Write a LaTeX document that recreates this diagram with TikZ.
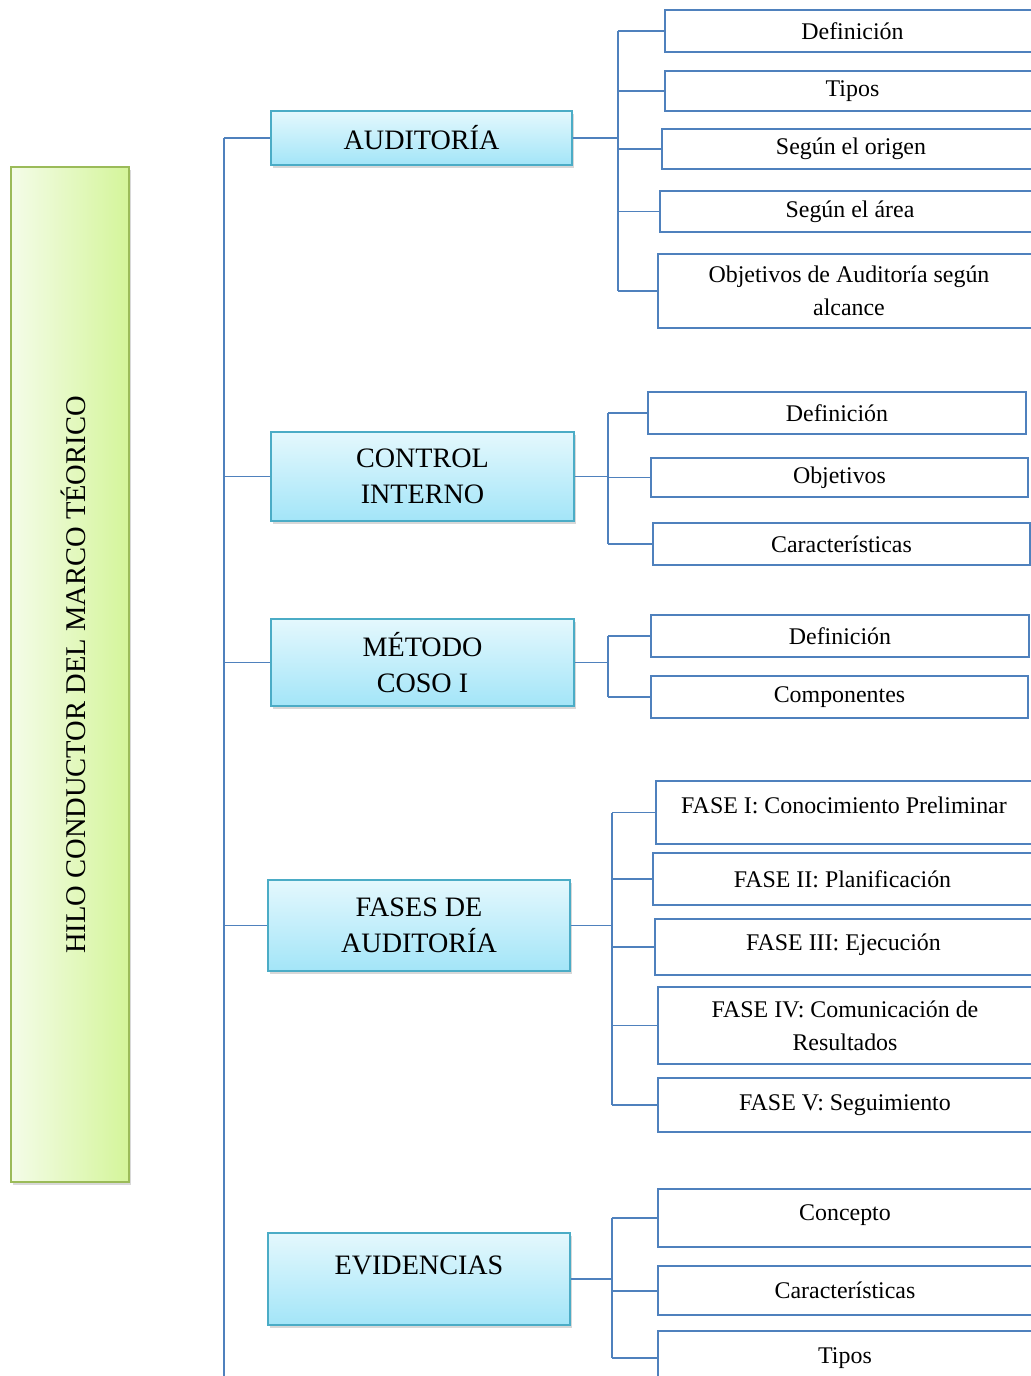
\documentclass[tikz,border=0pt]{standalone}
\usepackage{fontspec}
\setmainfont{Liberation Serif}
\usepackage{tikz}
\usetikzlibrary{positioning, shadows}

\definecolor{linkblue}{HTML}{4F81BD}
\definecolor{topicedge}{HTML}{4BACC6}
\definecolor{topictop}{HTML}{E4F8FD}
\definecolor{topicbot}{HTML}{A3E5F8}
\definecolor{titleedge}{HTML}{9BBB59}
\definecolor{titleleft}{HTML}{F4FCE8}
\definecolor{titleright}{HTML}{D4F59A}

\tikzset{
  link/.style={draw=linkblue, line width=1.4pt},
  titlebox/.style={draw=titleedge, line width=1.4pt, left color=titleleft, right color=titleright,
    drop shadow={opacity=0.3, shadow xshift=1.5pt, shadow yshift=-2pt}, inner sep=0pt},
  topic/.style={draw=topicedge, line width=1.4pt, top color=topictop, bottom color=topicbot,
    drop shadow={opacity=0.3, shadow xshift=1.5pt, shadow yshift=-2pt},
    align=center, font=\fontsize{20}{26}\selectfont, inner sep=0pt},
  leaf/.style={draw=linkblue, line width=1.4pt, fill=white, align=center,
    font=\fontsize{17}{23.5}\selectfont, inner sep=0pt},
}

\begin{document}
\begin{tikzpicture}[x=0.025cm, y=-0.025cm]
  % page is 1031 x 1376 px, 1px = 0.025cm
  \def\u{0.025cm}
  \clip (0,0) rectangle (1031,1376);
  \fill[white] (0,0) rectangle (1031,1376);

  % title column on the left
  \node[titlebox, minimum width=118*\u, minimum height=1015*\u] (hilo) at (70,674.5) {};
  \node[rotate=90, font=\fontsize{20.3}{24}\selectfont] (hilotxt) at (73,675) {HILO CONDUCTOR DEL MARCO TÉORICO};

  % main topics
  \node[topic, minimum width=301*\u, minimum height=54*\u] (aud) at (421.5,138) {AUDITORÍA};
  \node[topic, minimum width=303*\u, minimum height=89*\u] (ctrl) at (422.5,476.5) {CONTROL\\INTERNO};
  \node[topic, minimum width=303*\u, minimum height=87*\u] (coso) at (422.5,662.5) {MÉTODO\\COSO I};
  \node[topic, minimum width=302*\u, minimum height=91*\u] (fases) at (419,925.5) {FASES DE\\AUDITORÍA};
  \node[topic, minimum width=302*\u, minimum height=92*\u, text depth=19pt] (evid) at (419,1279) {EVIDENCIAS};

  % leaves: Auditoria
  \node[leaf, minimum width=375*\u, minimum height=42*\u] (a1) at (852.5,31) {Definición};
  \node[leaf, minimum width=375*\u, minimum height=40*\u] (a2) at (852.5,91) {Tipos};
  \node[leaf, minimum width=378*\u, minimum height=40*\u] (a3) at (851,149) {Según el origen};
  \node[leaf, minimum width=380*\u, minimum height=41*\u] (a4) at (850,211.5) {Según el área};
  \node[leaf, minimum width=382*\u, minimum height=74*\u] (a5) at (849,291) {Objetivos de Auditoría según\\alcance};

  % leaves: Control interno
  \node[leaf, minimum width=378*\u, minimum height=42*\u] (c1) at (837,413) {Definición};
  \node[leaf, minimum width=377*\u, minimum height=39*\u] (c2) at (839.5,477.5) {Objetivos};
  \node[leaf, minimum width=377*\u, minimum height=42*\u] (c3) at (841.5,544) {Características};

  % leaves: COSO I
  \node[leaf, minimum width=378*\u, minimum height=42*\u] (m1) at (840,636) {Definición};
  \node[leaf, minimum width=377*\u, minimum height=42*\u] (m2) at (839.5,697) {Componentes};

  % leaves: Fases
  \node[leaf, minimum width=376*\u, minimum height=63*\u, text depth=10pt] (f1) at (844,812.5) {FASE I: Conocimiento Preliminar};
  \node[leaf, minimum width=379*\u, minimum height=52*\u] (f2) at (842.5,879) {FASE II: Planificación};
  \node[leaf, minimum width=377*\u, minimum height=56*\u, text depth=7pt] (f3) at (843.5,947) {FASE III: Ejecución};
  \node[leaf, minimum width=374*\u, minimum height=77*\u] (f4) at (845,1025.5) {FASE IV: Comunicación de\\Resultados};
  \node[leaf, minimum width=374*\u, minimum height=54*\u] (f5) at (845,1105) {FASE V: Seguimiento};

  % leaves: Evidencias
  \node[leaf, minimum width=374*\u, minimum height=58*\u, text depth=8pt] (e1) at (845,1218) {Concepto};
  \node[leaf, minimum width=374*\u, minimum height=49*\u] (e2) at (845,1290.5) {Características};
  \node[leaf, minimum width=374*\u, minimum height=54*\u] (e3) at (845,1358) {Tipos};

  % spine
  \coordinate (spine) at (224,0);
  \coordinate (spineend) at (224,1376);
  \draw[link] (spine |- aud.west) -- (spineend);
  \foreach \t in {aud,ctrl,coso,fases}
    \draw[link] (spine |- \t.west) -- (\t.west);

  % brackets on the right
  \foreach \p/\bx/\kids/\first/\last in {aud/618/{a1,a2,a3,a4,a5}/a1/a5, ctrl/608/{c1,c2,c3}/c1/c3,
      coso/608/{m1,m2}/m1/m2, fases/612/{f1,f2,f3,f4,f5}/f1/f5, evid/612/{e1,e2,e3}/e1/e3} {
    \coordinate (\p bar) at (\bx,0);
    \draw[link] (\p.east) -- (\p bar |- \p.east);
    \draw[link] (\p bar |- \first.west) -- (\p bar |- \last.west);
    \foreach \k in \kids
      \draw[link] (\p bar |- \k.west) -- (\k.west);
  }
\end{tikzpicture}
\end{document}
